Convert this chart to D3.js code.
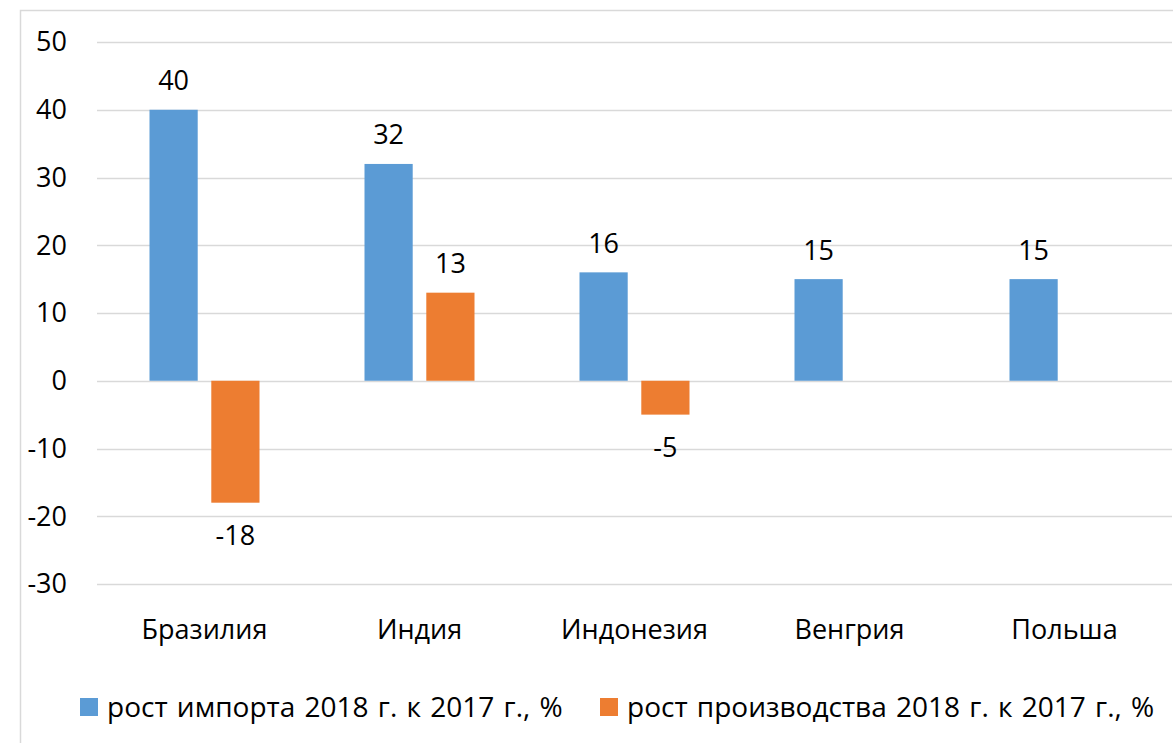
<!DOCTYPE html>
<html>
<head>
<meta charset="utf-8">
<script src="https://cdn.jsdelivr.net/npm/d3@7"></script>
<style>
  body { margin: 0; background: #fff; }
  svg { font-family: "Open Sans", "Noto Sans", sans-serif; }
</style>
</head>
<body>
<svg width="1173" height="743"></svg>
<script>
var categories = ["Бразилия", "Индия", "Индонезия", "Венгрия", "Польша"];
var importGrowth = [40, 32, 16, 15, 15];
var productionGrowth = [-18, 13, -5, null, null];
var seriesNames = ["рост импорта 2018 г. к 2017 г., %", "рост производства 2018 г. к 2017 г., %"];
var seriesColors = ["#5b9bd5", "#ed7d31"];
var yTicks = [50, 40, 30, 20, 10, 0, -10, -20, -30];

var svg = d3.select("svg"),
    width = +svg.attr("width"),
    height = +svg.attr("height");

var fontSize = 27;

// chart frame
svg.append("rect")
    .attr("x", 20.5).attr("y", 10.5)
    .attr("width", width + 10).attr("height", height + 10)
    .attr("fill", "none")
    .attr("stroke", "#d9d9d9")
    .attr("stroke-width", 1.5);

var x0 = 97, x1 = 1172;

var x = d3.scaleBand()
    .domain(categories)
    .range([x0, x1]);

var xs = d3.scaleBand()
    .domain([0, 1])
    .range([0, 110])
    .paddingInner(0.22);

var y = d3.scaleLinear()
    .domain([-30, 50])
    .range([584, 42]);

// gridlines
svg.append("g")
    .selectAll("line")
    .data(yTicks)
    .enter().append("line")
    .attr("x1", x0).attr("x2", x1)
    .attr("y1", function(d) { return Math.round(y(d)) + 0.5; })
    .attr("y2", function(d) { return Math.round(y(d)) + 0.5; })
    .attr("stroke", "#d9d9d9")
    .attr("stroke-width", 1.5);

// y tick labels
svg.append("g")
    .selectAll("text")
    .data(yTicks)
    .enter().append("text")
    .attr("x", 67)
    .attr("y", function(d) { return y(d); })
    .attr("dy", "0.35em")
    .attr("text-anchor", "end")
    .attr("font-size", fontSize)
    .attr("fill", "#000")
    .text(function(d) { return d; });

var rows = categories.map(function(c, i) {
    return { cat: c, vals: [importGrowth[i], productionGrowth[i]] };
});

var group = svg.append("g")
    .selectAll("g")
    .data(rows)
    .enter().append("g")
    .attr("transform", function(d) {
        return "translate(" + (x(d.cat) + x.bandwidth() / 2 - 55) + ",0)";
    });

var cells = group.selectAll("g")
    .data(function(d) {
        return d.vals.map(function(v, k) { return { k: k, v: v }; })
            .filter(function(e) { return e.v !== null; });
    })
    .enter().append("g");

cells.append("rect")
    .attr("x", function(d) { return xs(d.k); })
    .attr("width", xs.bandwidth())
    .attr("y", function(d) { return y(Math.max(0, d.v)); })
    .attr("height", function(d) { return Math.abs(y(d.v) - y(0)); })
    .attr("fill", function(d) { return seriesColors[d.k]; });

cells.append("text")
    .attr("x", function(d) { return xs(d.k) + xs.bandwidth() / 2; })
    .attr("y", function(d) { return d.v >= 0 ? y(d.v) - 29 : y(d.v) + 33; })
    .attr("dy", "0.35em")
    .attr("text-anchor", "middle")
    .attr("font-size", fontSize)
    .attr("fill", "#000")
    .text(function(d) { return d.v; });

// category labels
svg.append("g")
    .selectAll("text")
    .data(categories)
    .enter().append("text")
    .attr("x", function(d) { return x(d) + x.bandwidth() / 2; })
    .attr("y", 630)
    .attr("dy", "0.35em")
    .attr("text-anchor", "middle")
    .attr("font-size", fontSize)
    .attr("fill", "#000")
    .text(function(d) { return d; });

// legend
var legendX = [80, 600];
var legend = svg.append("g")
    .selectAll("g")
    .data(seriesNames)
    .enter().append("g")
    .attr("transform", function(d, i) { return "translate(" + legendX[i] + ",698)"; });

legend.append("rect")
    .attr("width", 18).attr("height", 18)
    .attr("fill", function(d, i) { return seriesColors[i]; });

legend.append("text")
    .attr("x", 27)
    .attr("y", 9)
    .attr("dy", "0.35em")
    .attr("font-size", 28)
    .attr("word-spacing", 2)
    .attr("fill", "#000")
    .text(function(d) { return d; });
</script>
</body>
</html>
